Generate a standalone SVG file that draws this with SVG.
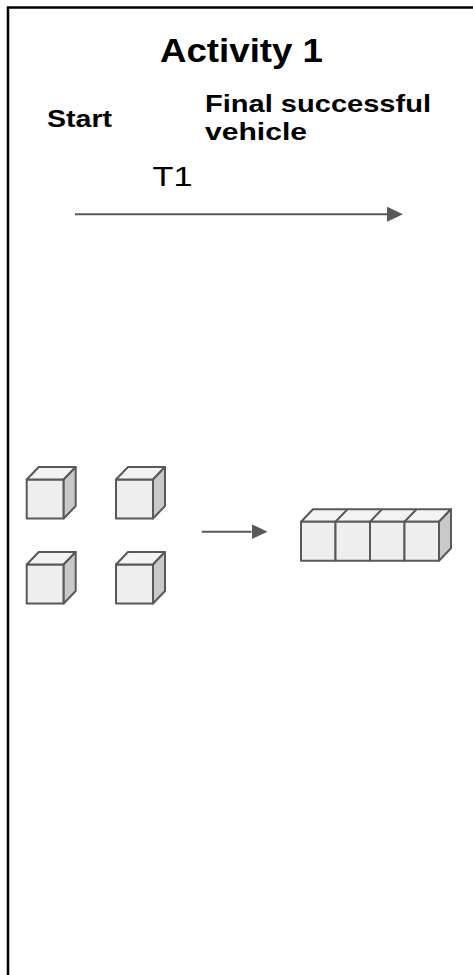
<svg xmlns="http://www.w3.org/2000/svg" width="473" height="975" viewBox="0 0 473 975">
<style>
.t{font-family:"Liberation Sans",Arial,sans-serif;fill:#000}
.b{font-weight:bold}
.f{fill:#eeeeee;stroke:#595959;stroke-width:2;stroke-linejoin:round}
.tp{fill:#f3f3f3;stroke:#595959;stroke-width:2;stroke-linejoin:round}
.sd{fill:#c9c9c9;stroke:#595959;stroke-width:2;stroke-linejoin:round}
.ln{stroke:#595959;stroke-width:2;fill:none}
</style>
<defs>
<marker id="ah" markerUnits="userSpaceOnUse" markerWidth="16" markerHeight="16" refX="0" refY="8" orient="auto" viewBox="0 0 16 16">
<path d="M0,0.5 L16,8 L0,15.5 z" fill="#595959"/>
</marker>
<g id="cube">
<rect class="f" x="0" y="0" width="37" height="39"/>
<polygon class="tp" points="0,0 12,-12.5 49,-12.5 37,0"/>
<polygon class="sd" points="37,0 49,-12.5 49,26.5 37,39"/>
</g>
</defs>
<rect x="8" y="7.5" width="480" height="990" fill="#ffffff" stroke="#000" stroke-width="2.5"/>
<g id="title"><text class="t b" x="160" y="62" font-size="34" textLength="163" lengthAdjust="spacingAndGlyphs">Activity 1</text></g>
<g id="start"><text class="t b" x="47" y="127" font-size="24" textLength="65" lengthAdjust="spacingAndGlyphs">Start</text></g>
<g id="final">
<text class="t b" x="205" y="112" font-size="24" textLength="226" lengthAdjust="spacingAndGlyphs">Final successful</text>
<text class="t b" x="205" y="140" font-size="24" textLength="102" lengthAdjust="spacingAndGlyphs">vehicle</text>
</g>
<g id="t1"><text class="t" x="152.5" y="186" font-size="27" textLength="40" lengthAdjust="spacingAndGlyphs">T1</text></g>
<g id="cube1"><use href="#cube" x="26.7" y="479.5"/></g>
<g id="cube2"><use href="#cube" x="116" y="479.5"/></g>
<g id="cube3"><use href="#cube" x="26.7" y="564.5"/></g>
<g id="cube4"><use href="#cube" x="116" y="564.5"/></g>
<g id="row">
<polygon class="tp" points="301,521.7 313,509.2 451,509.2 439,521.7"/>
<polygon class="sd" points="439,521.7 451,509.2 451,548.2 439,560.7"/>
<rect class="f" x="301" y="521.7" width="34.5" height="39"/>
<rect class="f" x="335.5" y="521.7" width="34.5" height="39"/>
<rect class="f" x="370" y="521.7" width="34.5" height="39"/>
<rect class="f" x="404.5" y="521.7" width="34.5" height="39"/>
<path class="ln" d="M335.5,521.7 L347.5,509.2 M370,521.7 L382,509.2 M404.5,521.7 L416.5,509.2"/>
</g>
<g id="connectors">
<line class="ln" x1="75" y1="214.3" x2="387" y2="214.3" marker-end="url(#ah)"/>
<line class="ln" x1="201.7" y1="531.7" x2="251.5" y2="531.7" marker-end="url(#ah)"/>
</g>
</svg>
